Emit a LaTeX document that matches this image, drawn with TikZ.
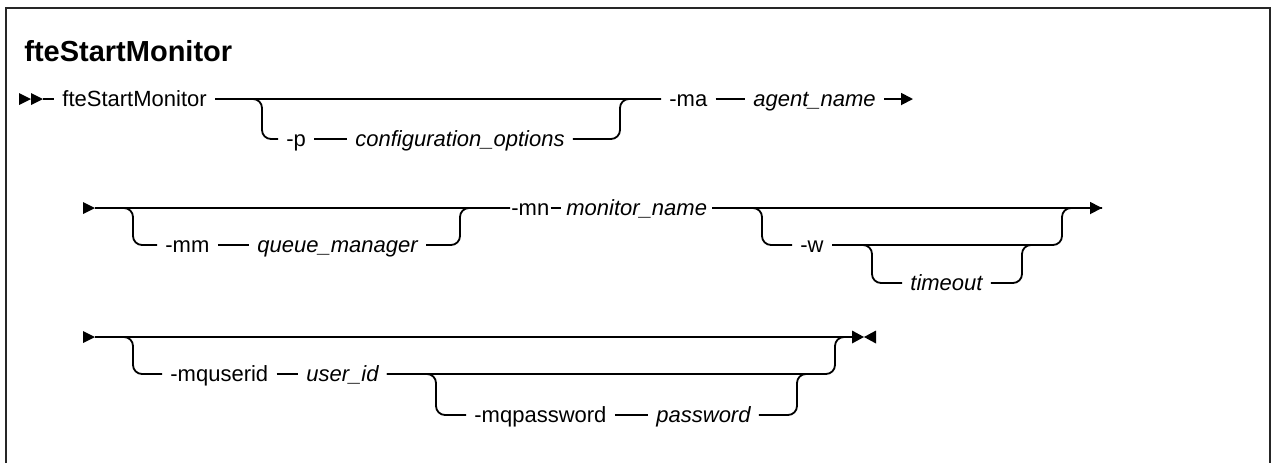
\documentclass[tikz,border=0pt]{standalone}
\usepackage{fontspec}
\setmainfont{Liberation Sans}
\usetikzlibrary{arrows.meta}

\tikzset{
  kw/.style={anchor=west, inner xsep=4pt, inner ysep=0pt, text height=7pt, text depth=0pt,
    font=\fontsize{11}{13}\selectfont},
  var/.style={kw, font=\fontsize{11}{13}\selectfont\itshape},
  rail/.style={line width=0.9pt, rounded corners=4.5pt},
  endtip/.style={-{Triangle[length=6pt,width=6pt]}}
}

\begin{document}
\begin{tikzpicture}[x=0.5pt,y=-0.5pt]
\useasboundingbox (0,0) rectangle (1274,463);
\draw[line width=1.4pt, black!85] (6,463) -- (6,8) -- (1270,8) -- (1270,463);

\node[anchor=base west, inner sep=0pt, font=\fontsize{14.5}{17}\selectfont\bfseries] (title) at (24,61) {fteStartMonitor};

% first line
\coordinate (s1) at (43,99);
\coordinate (o1a) at (262,99);
\coordinate (o1b) at (620,99);
\coordinate (e1) at (913,99);

\node[kw] (fsm) at (54,99) {fteStartMonitor};
\node[kw] (p) at (278,139) {-p};
\node[var] (cfg) at (347,139) {configuration\_options};
\node[kw] (ma) at (661,99) {-ma};
\node[var] (agent) at (745,99) {agent\_name};

\fill (s1) -- ++(-12,-6) -- ++(0,12) -- cycle;
\fill (s1) ++(-12,0) -- ++(-12,-6) -- ++(0,12) -- cycle;
\draw[rail] (s1) -- (fsm.west);
\draw[rail] (fsm.east) -- (ma.west);
\draw[rail] (fsm.east) -- (o1a) |- (p.west);
\draw[rail] (p.east) -- (cfg.west);
\draw[rail] (cfg.east) -| (o1b) -- (ma.west);
\draw[rail] (ma.east) -- (agent.west);
\draw[rail,endtip] (agent.east) -- (e1);

% second line
\coordinate (s2) at (95,208);
\coordinate (o2a) at (133,208);
\coordinate (o2b) at (460,208);
\coordinate (o2c) at (762,208);
\coordinate (o2d) at (1062,208);
\coordinate (o2e) at (872,245);
\coordinate (o2f) at (1022,245);
\coordinate (o2h) at (1042,245);
\coordinate (e2) at (1102,208);

\node[kw] (mm) at (157,245) {-mm};
\node[var] (qm) at (249,245) {queue\_manager};
\node[kw, inner xsep=0.5pt] (mn) at (510,208) {-mn};
\node[var, inner xsep=2.5pt] (mon) at (561,208) {monitor\_name};
\node[kw] (w) at (792,245) {-w};
\node[var] (tmo) at (902,283) {timeout};

\fill (s2) -- ++(-12,-6) -- ++(0,12) -- cycle;
\draw[rail] (s2) -- (mn.west);
\draw[rail] (s2) -- (o2a) |- (mm.west);
\draw[rail] (mm.east) -- (qm.west);
\draw[rail] (qm.east) -| (o2b) -- (mn.west);
\draw[rail] (mn.east) -- (mon.west);
\draw[rail,endtip] (mon.east) -- (e2);
\draw[rail] (mon.east) -- (o2c) |- (w.west);
\draw[rail] (w.east) -| (o2d) -- (e2);
\draw[rail] (w.east) -- (o2e) |- (tmo.west);
\draw[rail] (tmo.east) -| (o2f) -- (o2h);

% third line
\coordinate (s3) at (95,337);
\coordinate (o3a) at (133,337);
\coordinate (o3b) at (835,337);
\coordinate (o3c) at (436,374);
\coordinate (o3d) at (797,374);
\coordinate (o3e) at (815,374);
\coordinate (x3) at (852,337);

\node[kw] (mqu) at (162,374) {-mquserid};
\node[var] (uid) at (298,374) {user\_id};
\node[kw] (mqp) at (466,415) {-mqpassword};
\node[var] (pwd) at (648,415) {password};

\fill (s3) -- ++(-12,-6) -- ++(0,12) -- cycle;
\draw[rail] (s3) -- (x3);
\draw[rail] (s3) -- (o3a) |- (mqu.west);
\draw[rail] (mqu.east) -- (uid.west);
\draw[rail] (uid.east) -| (o3b) -- (x3);
\draw[rail] (uid.east) -- (o3c) |- (mqp.west);
\draw[rail] (mqp.east) -- (pwd.west);
\draw[rail] (pwd.east) -| (o3d) -- (o3e);
\fill (x3) ++(0,-6.5) -- ++(12,6.5) -- ++(-12,6.5) -- cycle;
\fill (x3) ++(24,-6.5) -- ++(-12,6.5) -- ++(12,6.5) -- cycle;
\end{tikzpicture}
\end{document}
